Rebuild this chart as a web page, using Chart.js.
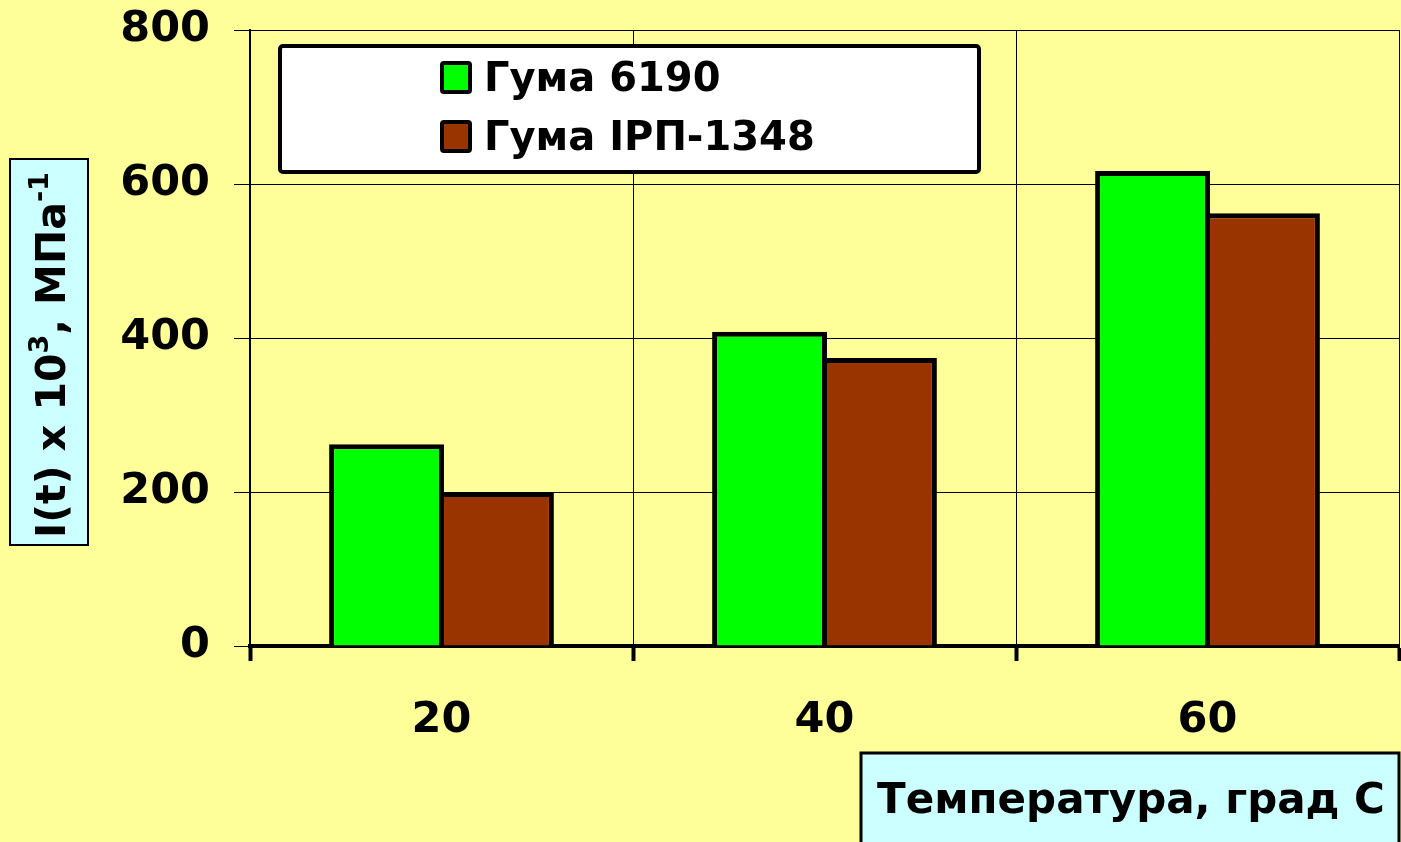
<!DOCTYPE html>
<html>
<head>
<meta charset="utf-8">
<script src="https://cdn.jsdelivr.net/npm/chart.js@4/dist/chart.umd.min.js"></script>
<style>
  html, body { margin: 0; padding: 0; background: #FFFF99; }
  #wrap { width: 1401px; height: 842px; }
</style>
</head>
<body>
<div id="wrap"><canvas id="chart" width="1401" height="842"></canvas></div>
<script>
// data
const temperatures = ['20', '40', '60'];
const guma6190 = [262, 408, 617];
const gumaIRP1348 = [200, 374, 562];
const seriesNames = ['Гума 6190', 'Гума ІРП-1348'];
const yTicks = [0, 200, 400, 600, 800];

const FONT = '"DejaVu Sans", Verdana, sans-serif';

// boxes with the axis titles and the legend
const decorations = {
  id: 'decorations',
  afterDraw(chart) {
    const ctx = chart.ctx;
    ctx.save();

    // legend
    ctx.fillStyle = '#FFFFFF';
    ctx.strokeStyle = '#000000';
    ctx.lineWidth = 4;
    ctx.beginPath();
    ctx.roundRect(280, 46, 699, 126, 3);
    ctx.fill();
    ctx.stroke();
    chart.data.datasets.forEach((ds, i) => {
      const y = 63 + i * 59;
      ctx.fillStyle = ds.backgroundColor;
      ctx.lineWidth = 4;
      ctx.beginPath();
      ctx.roundRect(442, y, 28, 29, 2);
      ctx.fill();
      ctx.stroke();
      ctx.fillStyle = '#000000';
      ctx.font = 'bold 40px ' + FONT;
      ctx.textAlign = 'left';
      ctx.textBaseline = 'middle';
      ctx.fillText(ds.label, 484, y + 18);
    });

    // y title
    ctx.fillStyle = '#CCFFFF';
    ctx.lineWidth = 2;
    ctx.fillRect(10, 159, 78, 386);
    ctx.strokeRect(10, 159, 78, 386);
    ctx.translate(49, 355);
    ctx.rotate(-Math.PI / 2);
    const parts = [
      ['I(t) x 10', 41, 0],
      ['3', 27, -17],
      [', МПа', 41, 0],
      ['-1', 27, -17]
    ];
    let total = 0;
    parts.forEach(p => {
      ctx.font = 'bold ' + p[1] + 'px ' + FONT;
      total += ctx.measureText(p[0]).width;
    });
    let x = -total / 2;
    ctx.fillStyle = '#000000';
    ctx.textAlign = 'left';
    ctx.textBaseline = 'alphabetic';
    parts.forEach(p => {
      ctx.font = 'bold ' + p[1] + 'px ' + FONT;
      ctx.fillText(p[0], x, 16 + p[2]);
      x += ctx.measureText(p[0]).width;
    });
    ctx.setTransform(1, 0, 0, 1, 0, 0);

    // x title
    ctx.fillStyle = '#CCFFFF';
    ctx.lineWidth = 3;
    ctx.fillRect(861, 753, 538, 92);
    ctx.strokeRect(861, 753, 538, 92);
    ctx.fillStyle = '#000000';
    ctx.font = 'bold 42px ' + FONT;
    ctx.textAlign = 'center';
    ctx.textBaseline = 'middle';
    ctx.fillText('Температура, град С', 1131, 802);

    ctx.restore();
  }
};

new Chart(document.getElementById('chart'), {
  type: 'bar',
  data: {
    labels: temperatures,
    datasets: [{
      label: seriesNames[0],
      data: guma6190,
      backgroundColor: '#00FF00',
      borderColor: '#000000',
      borderWidth: 5
    }, {
      label: seriesNames[1],
      data: gumaIRP1348,
      backgroundColor: '#993300',
      borderColor: '#000000',
      borderWidth: 5
    }]
  },
  options: {
    responsive: false,
    animation: false,
    layout: { padding: { top: 30, right: 2, left: 0, bottom: 0 } },
    datasets: { bar: { categoryPercentage: 0.574, barPercentage: 1.045, borderSkipped: 'bottom' } },
    plugins: { legend: { display: false }, tooltip: { enabled: false } },
    scales: {
      x: {
        grid: {
          offset: true,
          color: '#000000',
          lineWidth: 1,
          tickLength: 15,
          tickWidth: 4,
          tickColor: '#000000'
        },
        border: { color: '#000000', width: 4 },
        ticks: {
          color: '#000000',
          padding: 34,
          font: { family: FONT, size: 43, weight: 'bold' }
        },
        afterFit(axis) {
          axis.height = 196;
          axis.paddingLeft = 0;
          axis.paddingRight = 0;
        }
      },
      y: {
        min: 0,
        max: 800,
        afterBuildTicks(axis) { axis.ticks = yTicks.map(v => ({ value: v })); },
        grid: {
          color: '#000000',
          lineWidth: 1,
          tickLength: 16,
          drawOnChartArea: true
        },
        border: { color: '#000000', width: 2 },
        ticks: {
          color: '#000000',
          padding: 24,
          font: { family: FONT, size: 43, weight: 'bold' }
        },
        afterFit(axis) {
          axis.width = 250;
          axis.paddingTop = 0;
          axis.paddingBottom = 0;
        }
      }
    }
  },
  plugins: [decorations]
});
</script>
</body>
</html>
